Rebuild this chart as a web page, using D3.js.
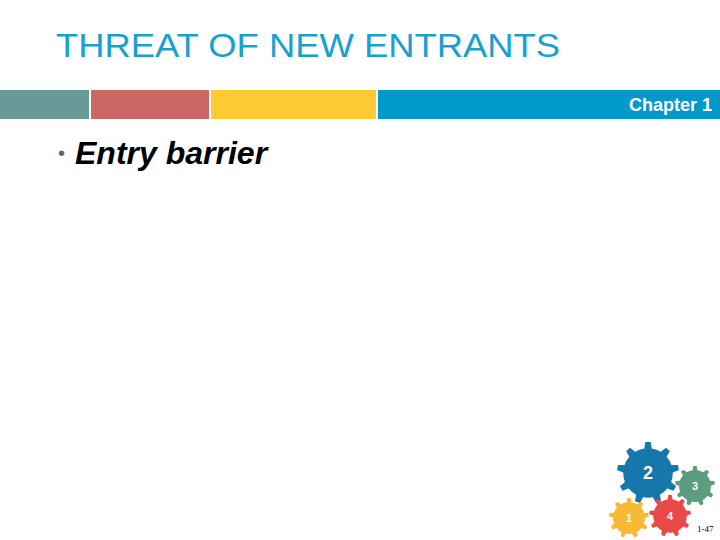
<!DOCTYPE html>
<html>
<head>
<meta charset="utf-8">
<script src="https://cdn.jsdelivr.net/npm/d3@7"></script>
<style>body{margin:0;background:#fff}</style>
</head>
<body>
<svg id="slide" width="720" height="540"></svg>
<script>
// header band segments
const bandStarts = [0, 91, 211, 378];
const bandEnds = [89, 209, 376, 720];
const bandColors = ['#6a9a98', '#cc6666', '#fdca33', '#0099cc'];

// gears
const gearLabels = ['2', '3', '1', '4'];
const gearX = [648, 695, 629, 670];
const gearY = [473, 486, 518, 516];
const gearR = [31, 20, 20, 21];
const gearColors = ['#1677ab', '#5e9c80', '#f8b935', '#e84a4a'];
const gearTeeth = [9, 9, 9, 9];

const svg = d3.select('#slide');

svg.append('text')
  .attr('x', 56).attr('y', 57)
  .attr('font-family', 'Liberation Sans, Arial, sans-serif')
  .attr('font-size', 34)
  .attr('textLength', 504)
  .attr('lengthAdjust', 'spacingAndGlyphs')
  .attr('fill', '#1a9fd0')
  .text('THREAT OF NEW ENTRANTS');

svg.selectAll('.band')
  .data(bandStarts)
  .enter()
  .append('rect')
  .attr('class', 'band')
  .attr('x', (d) => d)
  .attr('y', 90)
  .attr('width', (d, i) => bandEnds[i] - d)
  .attr('height', 29)
  .attr('fill', (d, i) => bandColors[i]);

svg.append('text')
  .attr('x', 712).attr('y', 111)
  .attr('text-anchor', 'end')
  .attr('font-family', 'Liberation Sans, Arial, sans-serif')
  .attr('font-weight', 'bold')
  .attr('font-size', 18)
  .attr('fill', '#fff')
  .text('Chapter 1');

svg.append('text')
  .attr('x', 58).attr('y', 164)
  .attr('font-family', 'Liberation Sans, Arial, sans-serif')
  .attr('fill', '#666')
  .attr('font-size', 20)
  .attr('dy', -4)
  .text('•');

svg.append('text')
  .attr('x', 75).attr('y', 164)
  .attr('font-family', 'Liberation Sans, Arial, sans-serif')
  .attr('font-size', 32)
  .attr('font-style', 'italic')
  .attr('font-weight', 'bold')
  .attr('fill', '#000')
  .text('Entry barrier');

// gear outline built from teeth
const gearPath = (r, n) => {
  const pts = [];
  const step = (2 * Math.PI) / n;
  for (let i = 0; i < n; i++) {
    const a = i * step;
    pts.push([a - step * 0.5, r * 0.8]);
    pts.push([a - step * 0.22, r * 0.8]);
    pts.push([a - step * 0.12, r]);
    pts.push([a + step * 0.12, r]);
    pts.push([a + step * 0.22, r * 0.8]);
  }
  return d3.lineRadial().angle((p) => p[0]).radius((p) => p[1]).curve(d3.curveLinearClosed)(pts);
};

const gears = svg.selectAll('.gear')
  .data(gearLabels)
  .enter()
  .append('g')
  .attr('class', 'gear')
  .attr('transform', (d, i) => `translate(${gearX[i]},${gearY[i]})`);

gears.append('path')
  .attr('d', (d, i) => gearPath(gearR[i], gearTeeth[i]))
  .attr('fill', (d, i) => gearColors[i]);

gears.append('text')
  .attr('text-anchor', 'middle')
  .attr('dy', '0.35em')
  .attr('font-family', 'Liberation Sans, Arial, sans-serif')
  .attr('font-weight', 'bold')
  .attr('font-size', (d, i) => (i === 0 ? 18 : 11))
  .attr('fill', '#fff')
  .text((d) => d);

svg.append('text')
  .attr('x', 697).attr('y', 532)
  .attr('font-family', 'Liberation Serif, serif')
  .attr('font-size', 9)
  .attr('fill', '#000')
  .text('1-47');
</script>
</body>
</html>
